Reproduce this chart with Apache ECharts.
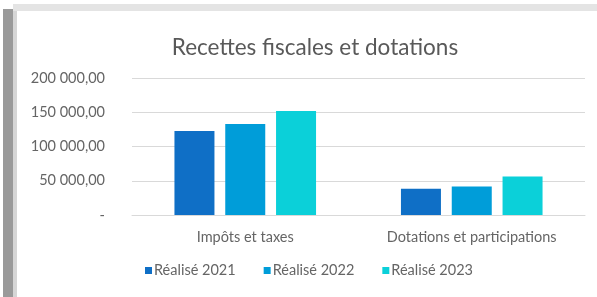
<!DOCTYPE html>
<html>
<head>
<meta charset="utf-8">
<script src="https://cdn.jsdelivr.net/npm/echarts@6/dist/echarts.min.js"></script>
<style>
html, body { margin: 0; padding: 0; background: #fff; }
#main { width: 597px; height: 297px; }
</style>
</head>
<body>
<div id="main"></div>
<script>
var categories = ['Impôts et taxes', 'Dotations et participations']
var seriesNames = ['Réalisé 2021', 'Réalisé 2022', 'Réalisé 2023']
var realise2021 = [122500, 38200]
var realise2022 = [132800, 41700]
var realise2023 = [152000, 56300]
var colors = ['#0F6FC6', '#009DD9', '#0BD0D9']

function fmt (v) {
  if (v === 0) return '-'
  var s = String(Math.round(v)).replace(/\B(?=(\d{3})+(?!\d))/g, ' ')
  return s + ',00'
}

var myChart = echarts.init(document.getElementById('main'))
var values = [realise2021, realise2022, realise2023]

myChart.setOption({
  animation: false,
  backgroundColor: '#fff',
  textStyle: { fontFamily: 'Lato' },
  title: {
    text: 'Recettes fiscales et dotations',
    left: 310,
    textAlign: 'center',
    top: 31,
    textStyle: { color: '#595959', fontSize: 22.5, fontWeight: 'normal', fontFamily: 'Lato' }
  },
  legend: {
    data: seriesNames,
    bottom: 14,
    left: 140,
    itemWidth: 7,
    itemHeight: 7,
    itemGap: 28,
    icon: 'rect',
    textStyle: { color: '#656565', fontSize: 14.5, padding: [0, 0, 0, -3] }
  },
  grid: { left: 132, right: 12, top: 78, bottom: 82 },
  xAxis: {
    type: 'category',
    data: categories,
    axisLine: { lineStyle: { color: '#d9d9d9' } },
    axisTick: { show: false },
    axisLabel: { color: '#656565', fontSize: 14.5, margin: 15, interval: 0 }
  },
  yAxis: {
    type: 'value',
    min: 0,
    max: 200000,
    interval: 50000,
    axisLine: { show: false },
    axisTick: { show: false },
    splitLine: { lineStyle: { color: '#d9d9d9', width: 1.2 } },
    axisLabel: { color: '#656565', fontSize: 14.5, margin: 27, formatter: fmt }
  },
  graphic: [
    { type: 'rect', shape: { x: 3, y: 9, width: 10, height: 288 }, style: { fill: '#9a9a9a' }, z: 100 },
    { type: 'rect', shape: { x: 13, y: 9, width: 4, height: 288 }, style: { fill: '#d6d6d6' }, z: 100 },
    { type: 'rect', shape: { x: 13, y: 4, width: 584, height: 7 }, style: { fill: '#e4e4e4' }, z: 100 }
  ],
  series: seriesNames.map(function (name, i) {
    return {
      name: name,
      type: 'bar',
      data: values[i],
      barWidth: 40,
      barGap: '27%',
      itemStyle: { color: colors[i] }
    }
  })
})
</script>
</body>
</html>
